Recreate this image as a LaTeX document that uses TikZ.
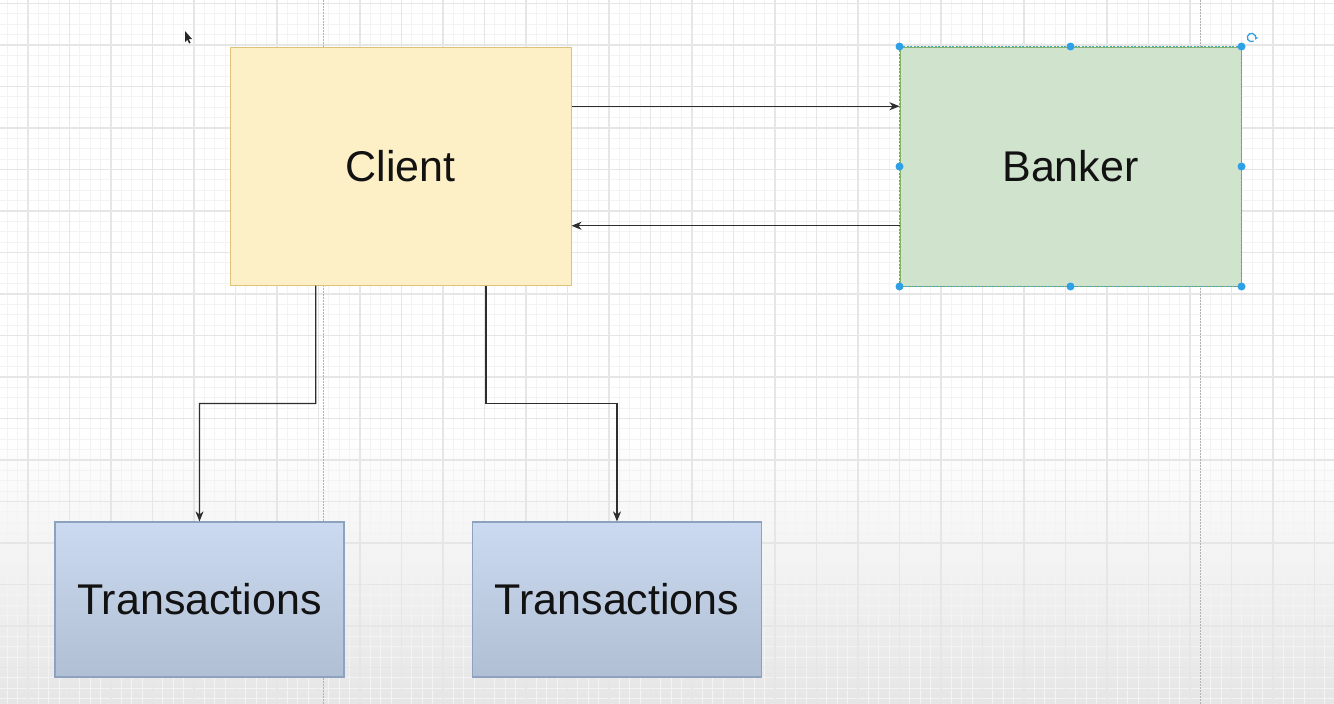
\documentclass[tikz,border=0pt]{standalone}
\usepackage{fontspec}
\setmainfont{Liberation Sans}
\usetikzlibrary{arrows.meta,calc}
\definecolor{gridminor}{HTML}{F3F3F3}
\definecolor{gridmajor}{HTML}{E6E6E6}
\definecolor{clientfill}{HTML}{FDEFC6}
\definecolor{clientline}{HTML}{DDC27A}
\definecolor{bankfill}{HTML}{D0E4CD}
\definecolor{bankline}{HTML}{82B366}
\definecolor{transtop}{HTML}{CBDAF0}
\definecolor{transbot}{HTML}{B1BFD4}
\definecolor{transline}{HTML}{8EA2BF}
\definecolor{selblue}{HTML}{2F9FE6}
\definecolor{edgecol}{HTML}{2E2E2E}
\tikzset{
  minorline/.style={draw=gridminor, line width=0.8pt},
  majorline/.style={draw=gridmajor, line width=1.1pt},
  pagebreak/.style={draw=black!30, line width=0.9pt, dash pattern=on 1.5pt off 1.5pt},
  boxbase/.style={rectangle, inner sep=0pt, font=\fontsize{43}{50}\selectfont, text=black!93},
  clientbox/.style={boxbase, fill=clientfill, draw=clientline, line width=1pt, minimum width=341pt, minimum height=238pt},
  bankbox/.style={boxbase, fill=bankfill, draw=bankline, line width=1pt, minimum width=341pt, minimum height=239pt},
  transbox/.style={boxbase, top color=transtop, bottom color=transbot, draw=transline, line width=1.2pt, minimum width=289pt, minimum height=155pt},
  arr/.style={draw=edgecol, line width=1.2pt, -{Stealth[length=10pt,width=8pt,inset=3pt]}},
  handle/.style={circle, fill=selblue, inner sep=0pt, minimum size=8pt},
}
\begin{document}
\begin{tikzpicture}[x=1pt,y=-1pt]
\useasboundingbox (0,0) rectangle (1334,704);
% background
\fill[white] (0,0) rectangle (1334,704);
\shade[top color=white, bottom color=black!10] (0,430) rectangle (1334,704);
% grid
\foreach \i in {0,...,132} {
  \draw[minorline] ({-13.5+10.375*\i},0) -- ++(0,704);
}
\foreach \i in {0,...,68} {
  \draw[minorline] (0,{3.5+10.375*\i}) -- ++(1334,0);
}
\foreach \i in {0,...,33} {
  \draw[majorline] ({-13.5+41.5*\i},0) -- ++(0,704);
}
\foreach \i in {0,...,17} {
  \draw[majorline] (0,{3.5+41.5*\i}) -- ++(1334,0);
}
\draw[pagebreak] (323,0) -- (323,704);
\draw[pagebreak] (1200,0) -- (1200,704);
% cursor
\fill[black!85] (185,31) -- (185,42) -- (187.3,39.8) -- (189.2,43.5) -- (190.6,42.8) -- (188.8,39.2) -- (192,39) -- cycle;
% nodes
\node[clientbox] (client) at (400.5,166) {Client};
\node[bankbox] (banker) at (1070.5,166.5) {Banker};
\node[transbox] (t1) at (199.5,599.5) {Transactions};
\node[transbox] (t2) at (617,599.5) {Transactions};
% selection of Banker
\draw[selblue!70!bankline, line width=0.8pt, dash pattern=on 2pt off 1.5pt] (banker.north west) rectangle (banker.south east);
\foreach \a in {north west,north,north east,east,south east,south,south west,west} {
  \node[handle] at (banker.\a) {};
}
\coordinate (rot) at ($(banker.north east)+(10,-9)$);
\draw[selblue, line width=1.3pt, -{Stealth[length=3.5pt,width=4pt]}] ($(rot)+(60:4.2)$) arc[start angle=60, end angle=390, radius=4.2];
% connectors
\coordinate (cR1) at ($(client.north east)!0.25!(client.south east)$);
\coordinate (cR2) at ($(client.north east)!0.75!(client.south east)$);
\draw[arr] (cR1) -- (cR1 -| banker.west);
\draw[arr] (cR2 -| banker.west) -- (cR2);
\coordinate (cB1) at ($(client.south west)!0.252!(client.south east)$);
\coordinate (cB2) at ($(client.south west)!0.75!(client.south east)$);
\coordinate (midL) at ($(cB1)!0.5!(cB1 |- t1.north)$);
\draw[arr] (cB1) -- (midL) -| (t1.north);
\draw[arr] (cB2) -- (cB2 |- midL) -| (t2.north);
\end{tikzpicture}
\end{document}
